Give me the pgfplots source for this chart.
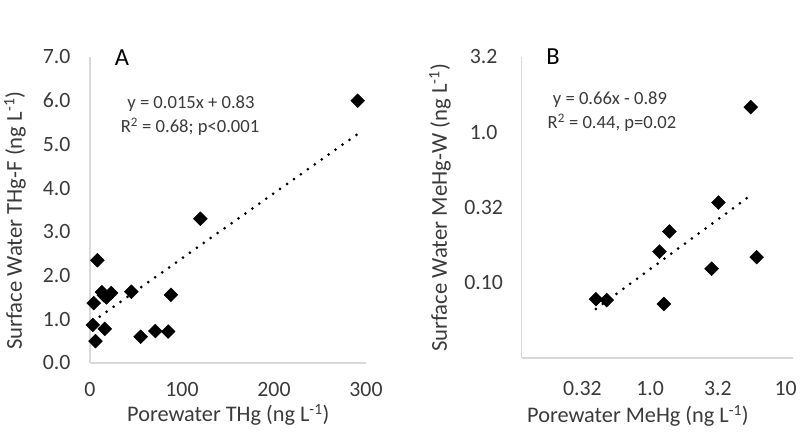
\documentclass[border=0pt]{standalone}
\usepackage{fontspec}
\setmainfont{Carlito}
\usepackage{pgfplots}
\pgfplotsset{compat=1.18}
\definecolor{axgray}{HTML}{D9D9D9}
\definecolor{txt}{HTML}{3A3A3A}
\newcommand{\tickfont}{\fontsize{21.8}{24}\selectfont}
\newcommand{\labfont}{\fontsize{22.3}{24}\selectfont}
\newcommand{\ylabfont}{\fontsize{22.7}{24}\selectfont}
\newcommand{\annfont}{\fontsize{18.6}{22}\selectfont}
\pgfplotsset{
  mystyle/.style={
    scale only axis,
    anchor=south west,
    axis x line*=bottom, axis y line*=left,
    axis line style={-, draw=axgray, line width=1.5pt},
    major tick length=0pt,
    tick label style={font=\tickfont, text=txt},
    /pgf/number format/assume math mode=true,
    clip=false,
  },
  mymark/.style={only marks, mark=square*, mark size=4.9pt, mark options={rotate=45, black, fill=black}},
  mytrend/.style={black, line width=3pt, dash pattern=on 0pt off 8.5pt, line cap=round},
}
\begin{document}
\begin{tikzpicture}
\path[use as bounding box] (0pt,0pt) rectangle (800pt,432pt);
% Panel A
\begin{axis}[mystyle,
  at={(90pt,69pt)}, width=276pt, height=306pt,
  xmin=0, xmax=300, ymin=0, ymax=7,
  xtick={0,100,200,300},
  ytick={0,1,2,3,4,5,6,7},
  yticklabels={0.0,1.0,2.0,3.0,4.0,5.0,6.0,7.0},
  yticklabel style={xshift=-16pt},
  xticklabel style={yshift=-16pt},
]
\addplot[mytrend] coordinates {(3,0.95) (291,5.24)};
\addplot[mymark] coordinates {
(291,6.0) (120,3.30) (8,2.35) (4,1.37) (3,0.87) (6,0.50) (16,0.78)
(13,1.62) (18,1.50) (23,1.60) (15,1.55) (45,1.63) (88,1.56)
(55,0.60) (71,0.73) (85,0.72)
};
\end{axis}
% Panel B
\begin{axis}[mystyle,
  at={(521.7pt,74pt)}, width=271pt, height=301pt,
  xmode=log, ymode=log,
  xmin=0.1, xmax=10, ymin=0.031623, ymax=3.1623,
  xtick={0.31623,1,3.1623,10}, xticklabels={0.32,1.0,3.2,10},
  ytick={0.1,0.31623,1,3.1623}, yticklabels={0.10,0.32,1.0,3.2},
  xticklabel style={yshift=-20pt, xshift=-7pt},
  yticklabel style={anchor=center, xshift=-38pt},
]
\addplot[mytrend] coordinates {(0.353,0.067) (4.9,0.381)};
\addplot[mymark] coordinates {
(4.9,1.47) (2.83,0.341) (1.23,0.219) (1.04,0.161) (5.42,0.148)
(2.52,0.124) (0.353,0.0778) (0.424,0.0767) (1.12,0.0722)
};
\end{axis}
% texts
\node[font=\fontsize{24.5}{26}\selectfont, text=black] at (122pt,374pt) {A};
\node[font=\fontsize{24.5}{26}\selectfont, text=black] at (553pt,375pt) {B};
\node[font=\annfont, text=txt] at (191pt,328pt) {y = 0.015x + 0.83};
\node[font=\annfont, text=txt] at (190pt,305pt) {R\textsuperscript{2} = 0.68; p<0.001};
\node[font=\annfont, text=txt] at (610pt,332pt) {y = 0.66x - 0.89};
\node[font=\annfont, text=txt] at (612pt,309pt) {R\textsuperscript{2} = 0.44, p=0.02};
\node[font=\labfont, text=txt, inner sep=0pt, anchor=west] at (127pt,17pt) {Porewater THg (ng L\textsuperscript{-1})};
\node[font=\labfont, text=txt, inner sep=0pt, anchor=west] at (527pt,16pt) {Porewater MeHg (ng L\textsuperscript{-1})};
\node[font=\ylabfont, text=txt, rotate=90, inner sep=0pt, anchor=west] at (15pt,82pt) {Surface Water THg-F (ng L\textsuperscript{-1})};
\node[font=\ylabfont, text=txt, rotate=90, inner sep=0pt, anchor=west] at (440pt,80pt) {Surface Water MeHg-W (ng L\textsuperscript{-1})};
\end{tikzpicture}
\end{document}
